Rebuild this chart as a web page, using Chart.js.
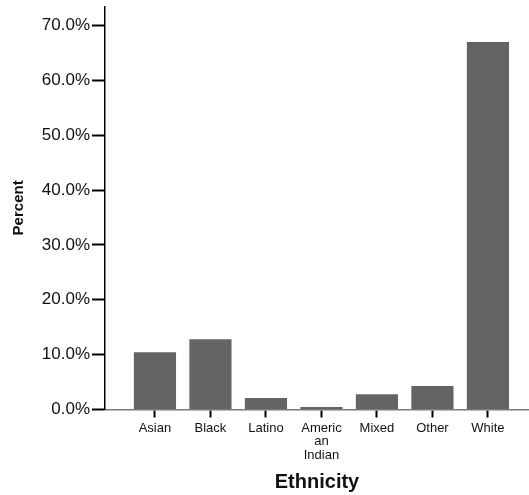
<!DOCTYPE html>
<html lang="en">
<head>
    <meta charset="UTF-8">
    <title>Ethnicity</title>
    <style>
        html, body { margin: 0; padding: 0; background: #fff; }
        #wrap { width: 529px; height: 495px; }
    </style>
</head>
<body>
    <div id="wrap">
        <canvas id="myChart"></canvas>
    </div>

    <script src="https://cdn.jsdelivr.net/npm/chart.js"></script>

    <script>
        // data
        const categories = ['Asian', 'Black', 'Latino', ['Americ', 'an', 'Indian'], 'Mixed', 'Other', 'White'];
        const percents = [10.45, 12.8, 2.1, 0.45, 2.8, 4.3, 67.0];
        const yTicks = [0, 10, 20, 30, 40, 50, 60, 70];

        const points = percents.map((v, i) => ({ x: i, y: v }));

        const ctx = document.getElementById('myChart');

        new Chart(ctx, {
            type: 'bar',
            data: {
                datasets: [{
                    data: points,
                    backgroundColor: '#646464',
                    borderWidth: 0,
                    barPercentage: 0.76,
                    categoryPercentage: 1
                }]
            },
            options: {
                responsive: true,
                maintainAspectRatio: false,
                animation: false,
                layout: { padding: { top: 5, right: 0, left: 0, bottom: 0 } },
                plugins: {
                    legend: { display: false },
                    tooltip: { enabled: false }
                },
                scales: {
                    x: {
                        type: 'linear',
                        offset: false,
                        min: -0.9,
                        max: 6.74,
                        afterFit: s => { s.height = 85.5; },
                        afterBuildTicks: s => { s.ticks = categories.map((c, i) => ({ value: i })); },
                        grid: {
                            offset: false,
                            drawOnChartArea: false,
                            tickLength: 8,
                            tickColor: '#000',
                            tickWidth: 2
                        },
                        border: { color: '#7a7a7a', width: 1.5 },
                        ticks: {
                            autoSkip: false,
                            maxRotation: 0,
                            padding: 4,
                            color: '#111',
                            font: { family: 'Liberation Sans', size: 13, lineHeight: 1.04 },
                            callback: v => categories[v]
                        },
                        title: {
                            display: true,
                            text: 'Ethnicity',
                            color: '#111',
                            padding: { top: 0, bottom: 1 },
                            font: { family: 'Liberation Sans', size: 20, weight: 'bold' }
                        }
                    },
                    y: {
                        min: 0,
                        max: 73.5,
                        afterFit: s => { s.width = 105; },
                        afterBuildTicks: s => { s.ticks = yTicks.map(v => ({ value: v })); },
                        grid: {
                            drawOnChartArea: false,
                            tickLength: 13,
                            tickColor: '#000',
                            tickWidth: 2
                        },
                        border: { color: '#000', width: 1.5 },
                        ticks: {
                            padding: 2,
                            color: '#111',
                            font: { family: 'Liberation Sans', size: 17, lineHeight: 0.5 },
                            callback: v => v.toFixed(1) + '%'
                        },
                        title: {
                            display: true,
                            text: 'Percent',
                            color: '#111',
                            padding: { top: 10, bottom: 0 },
                            font: { family: 'Liberation Sans', size: 15, weight: 'bold' }
                        }
                    }
                }
            }
        });
    </script>
</body>
</html>
